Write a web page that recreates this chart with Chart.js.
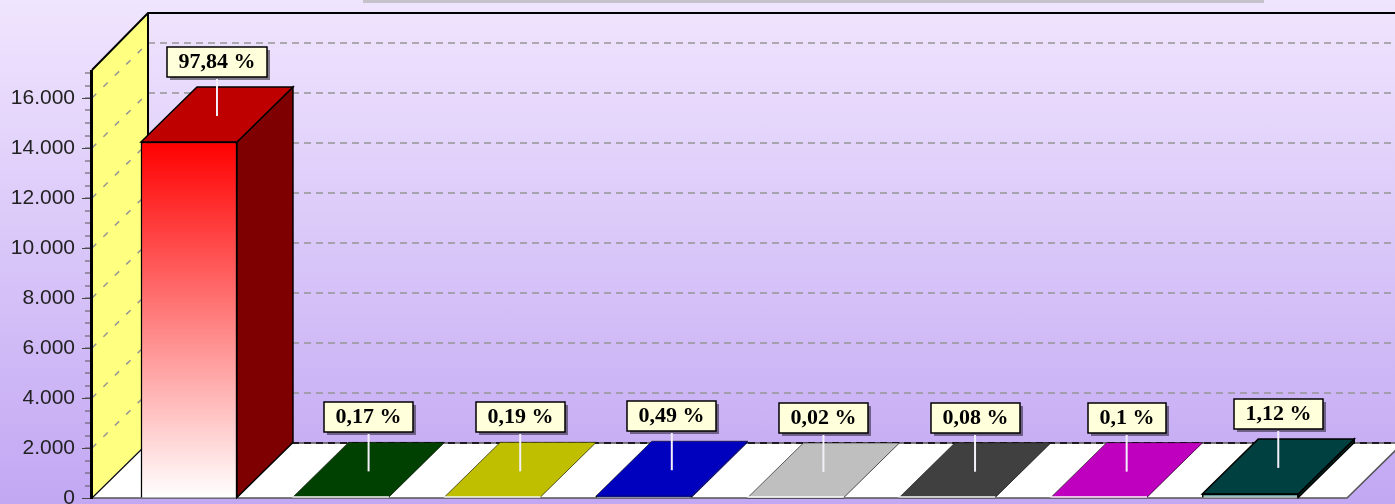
<!DOCTYPE html>
<html lang="en">
<head>
  <meta charset="UTF-8">
  <title>3D bar chart</title>
  <script src="https://cdn.jsdelivr.net/npm/chart.js"></script>
  <style>
    html, body { margin: 0; padding: 0; overflow: hidden; }
    body { width: 1395px; height: 504px; background: linear-gradient(#f0e5fe, #c2a7f3); }
    #topBar { position: absolute; left: 363px; top: 0; width: 901px; height: 3px; background: #c6c2ca; }
    #myChart { display: block; position: absolute; left: 0; top: 0; }
  </style>
</head>
<body>
<div id="topBar"></div>
<canvas id="myChart" width="1395" height="504"></canvas>

<script>
  // Data
  const positions = [1, 2, 3, 4, 5, 6, 7, 8];
  const values = [14240, 25, 28, 71, 3, 12, 15, 163];
  const percents = ['97,84 %', '0,17 %', '0,19 %', '0,49 %', '0,02 %', '0,08 %', '0,1 %', '1,12 %'];
  const yTicks = [0, 2000, 4000, 6000, 8000, 10000, 12000, 14000, 16000];

  // Face colours of each bar
  const frontColors = ['#ff0000', '#005500', '#ffff00', '#0000ff', '#ffffff', '#555555', '#ff00ff', '#005555'];
  const topColors = ['#bf0000', '#004000', '#bfbf00', '#0000bf', '#bfbfbf', '#404040', '#bf00bf', '#004040'];
  const sideColors = ['#7f0000', '#002a00', '#7f7f00', '#00007f', '#7f7f7f', '#2a2a2a', '#7f007f', '#002a2a'];

  const DEPTH_X = 56;
  const DEPTH_Y = 55;

  function poly(ctx, pts, fill, stroke, lw) {
    ctx.beginPath();
    pts.forEach((p, i) => i ? ctx.lineTo(p[0], p[1]) : ctx.moveTo(p[0], p[1]));
    ctx.closePath();
    if (fill) { ctx.fillStyle = fill; ctx.fill(); }
    if (stroke) { ctx.strokeStyle = stroke; ctx.lineWidth = lw || 1; ctx.stroke(); }
  }

  // Walls, floor, grid and the depth faces of the bars
  const roomPlugin = {
    id: 'room',
    beforeDatasetsDraw(chart) {
      const { ctx, chartArea: a, scales: { y } } = chart;
      const b = y.getPixelForValue(0);
      ctx.save();

      // left wall
      poly(ctx, [[a.left, a.top], [a.left + DEPTH_X, a.top - DEPTH_Y - 2], [a.left + DEPTH_X, b - DEPTH_Y], [a.left, b]], '#ffff80');

      // floor
      poly(ctx, [[a.left, b], [a.right, b], [a.right + DEPTH_X, b - DEPTH_Y], [a.left + DEPTH_X, b - DEPTH_Y]], '#ffffff', '#555555', 1.5);

      // grid on both walls
      ctx.lineWidth = 1.5;
      ctx.strokeStyle = '#959595';
      yTicks.forEach(v => {
        if (v === 0) return;
        const py = y.getPixelForValue(v);
        ctx.setLineDash([6, 10]);
        ctx.beginPath();
        ctx.moveTo(a.left, py);
        ctx.lineTo(a.left + DEPTH_X, py - DEPTH_Y);
        ctx.stroke();
        ctx.setLineDash([7, 5]);
        ctx.beginPath();
        ctx.moveTo(a.left + DEPTH_X, py - DEPTH_Y);
        ctx.lineTo(1395, py - DEPTH_Y);
        ctx.stroke();
      });
      ctx.strokeStyle = '#000000';
      ctx.beginPath();
      ctx.moveTo(a.left + DEPTH_X, b - DEPTH_Y);
      ctx.lineTo(1395, b - DEPTH_Y);
      ctx.stroke();
      ctx.setLineDash([]);

      // back wall edges
      ctx.strokeStyle = '#000000';
      ctx.lineWidth = 2;
      ctx.beginPath();
      ctx.moveTo(a.left, a.top);
      ctx.lineTo(a.left + DEPTH_X, a.top - DEPTH_Y - 2);
      ctx.lineTo(1395, a.top - DEPTH_Y - 2);
      ctx.moveTo(a.left + DEPTH_X, a.top - DEPTH_Y - 2);
      ctx.lineTo(a.left + DEPTH_X, b - DEPTH_Y);
      ctx.stroke();
      ctx.lineWidth = 1;
      ctx.beginPath();
      ctx.moveTo(a.left, b);
      ctx.lineTo(a.left + DEPTH_X, b - DEPTH_Y);
      ctx.stroke();

      // y axis minor ticks
      ctx.strokeStyle = '#555555';
      for (let v = 500; v < y.max; v += 500) {
        const py = Math.round(y.getPixelForValue(v));
        ctx.beginPath();
        ctx.moveTo(a.left - 7, py);
        ctx.lineTo(a.left, py);
        ctx.stroke();
      }

      // depth faces, taken from the true value so that thin bars stay flat
      chart.getDatasetMeta(0).data.forEach((bar, i) => {
        const l = bar.x - bar.width / 2, r = bar.x + bar.width / 2, base = bar.base;
        const t = y.getPixelForValue(values[i]);
        const tall = base - t > 3;
        poly(ctx, [[r, t], [r + DEPTH_X, t - DEPTH_Y], [r + DEPTH_X, base - DEPTH_Y], [r, base]], sideColors[i], tall ? '#000000' : null, 1.5);
        poly(ctx, [[l, t], [l + DEPTH_X, t - DEPTH_Y], [r + DEPTH_X, t - DEPTH_Y], [r, t]], topColors[i], '#000000', tall ? 1.5 : 0.6);
      });
      ctx.restore();
    },
    afterDatasetsDraw(chart) {
      const { ctx, chartArea: a, scales: { y } } = chart;
      ctx.save();

      // thick y axis line
      ctx.fillStyle = '#000000';
      ctx.fillRect(a.left - 2, a.top, 3, y.getPixelForValue(0) - a.top + 1);

      // value boxes
      ctx.font = 'bold 22px "Liberation Serif"';
      ctx.textAlign = 'center';
      ctx.textBaseline = 'middle';
      chart.getDatasetMeta(0).data.forEach((bar, i) => {
        const t = y.getPixelForValue(values[i]);
        const cx = bar.x + DEPTH_X / 2;
        const w = Math.round(ctx.measureText(percents[i]).width) + 23;
        const boxTop = Math.round(t - 95);
        const boxLeft = Math.round(cx - w / 2);
        ctx.fillStyle = 'rgba(0,0,0,0.45)';
        ctx.fillRect(boxLeft + 3, boxTop + 3, w, 30);
        ctx.fillStyle = '#ffffdc';
        ctx.fillRect(boxLeft, boxTop, w, 30);
        ctx.strokeStyle = '#000000';
        ctx.lineWidth = 1.5;
        ctx.strokeRect(boxLeft, boxTop, w, 30);
        ctx.strokeStyle = '#f4f0fa';
        ctx.lineWidth = 2;
        ctx.beginPath();
        ctx.moveTo(cx, boxTop + 32);
        ctx.lineTo(cx, t - 26);
        ctx.stroke();
        ctx.fillStyle = '#000000';
        ctx.fillText(percents[i], boxLeft + w / 2, boxTop + 15);
      });
      ctx.restore();
    }
  };

  const ctx = document.getElementById('myChart').getContext('2d');
  new Chart(ctx, {
    type: 'bar',
    data: {
      datasets: [{
        data: positions.map((p, i) => ({ x: p, y: values[i] })),
        barThickness: 96,
        minBarLength: 1.5,
        backgroundColor(c) {
          const y = c.chart.scales.y;
          const v = values[c.dataIndex];
          if (v < 50) return '#ffffff';
          const y0 = y ? y.getPixelForValue(v) : NaN;
          const y1 = y ? y.getPixelForValue(0) : NaN;
          if (!Number.isFinite(y0) || !Number.isFinite(y1)) return frontColors[c.dataIndex];
          const g = c.chart.ctx.createLinearGradient(0, y0, 0, y1);
          g.addColorStop(0, frontColors[c.dataIndex]);
          g.addColorStop(1, '#ffffff');
          return g;
        },
        borderColor: '#000000',
        borderWidth: c => (values[c.dataIndex] > 50 ? 1.5 : 0)
      }]
    },
    plugins: [roomPlugin],
    options: {
      responsive: false,
      animation: false,
      layout: { padding: { top: 70, bottom: 6, right: 48, left: 0 } },
      plugins: { legend: { display: false }, tooltip: { enabled: false } },
      scales: {
        x: { type: 'linear', display: false, min: 0.3604, max: 8.638, offset: false },
        y: {
          min: 0,
          max: 17120,
          afterFit(s) { s.width = 92; s.paddingTop = 0; s.paddingBottom = 0; },
          border: { display: false },
          grid: { drawOnChartArea: false, tickLength: 10, tickColor: '#444444', tickWidth: 1 },
          afterBuildTicks(s) { s.ticks = yTicks.map(v => ({ value: v })); },
          ticks: {
            color: '#222222',
            padding: 7,
            font: { family: '"Liberation Sans"', size: 21 },
            callback: v => String(v).replace(/\B(?=(\d{3})+$)/g, '.')
          }
        }
      }
    }
  });
</script>
</body>
</html>
